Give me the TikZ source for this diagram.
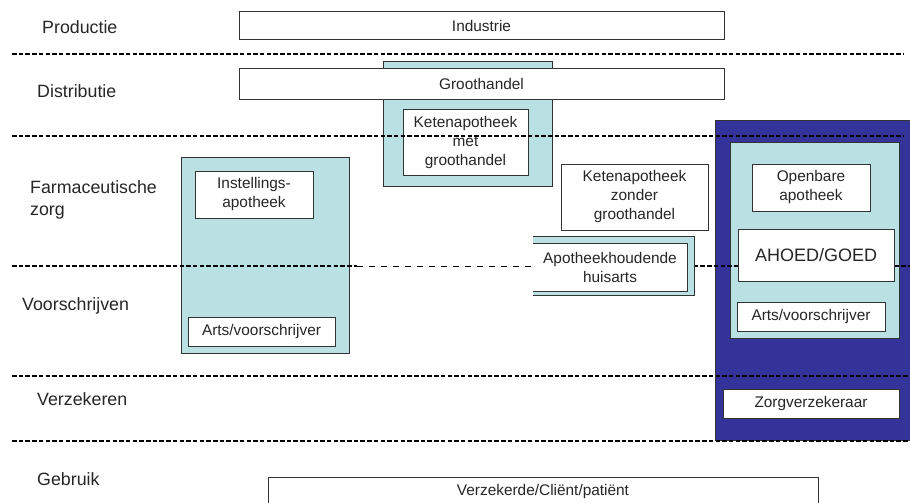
\documentclass[tikz,border=0pt]{standalone}
\usepackage{fontspec}
\setmainfont{Liberation Sans}
\definecolor{tealbg}{HTML}{B9E0E3}
\definecolor{navybg}{HTML}{333399}
\begin{document}
\begin{tikzpicture}[x=1pt,y=-1pt,
  lbl/.style={anchor=base west, font=\fontsize{17.8}{22}\selectfont, text=black!85, inner sep=0pt},
  wbox/.style={draw=black!80, fill=white, line width=1pt, inner sep=0pt, align=center, font=\fontsize{15.4}{19}\selectfont, text=black!85},
  tbox/.style={draw=black!80, fill=tealbg, line width=1pt, inner sep=0pt},
  bbox/.style={draw=black!80, fill=navybg, line width=1pt, inner sep=0pt},
  edge3/.style={draw=black!80, line width=1pt},
  dense/.style={dash pattern=on 4.5pt off 2.2pt, line width=1.1pt},
  loose/.style={dash pattern=on 6pt off 6pt, line width=1pt}]

\useasboundingbox (0,0) rectangle (910,503);
\clip (0,0) rectangle (910,503);
\fill[white] (0,0) rectangle (910,503);

% row labels
\node[lbl] (lprod) at (42,33.5) {Productie};
\node[lbl] (ldist) at (37,97) {Distributie};
\node[lbl, align=left] (lfarm) at (30,215) {Farmaceutische\\zorg};
\node[lbl] (lvoor) at (22,310) {Voorschrijven};
\node[lbl] (lverz) at (37,405) {Verzekeren};
\node[lbl] (lgebr) at (37,485) {Gebruik};

% distribution / production
\node[tbox, minimum width=169pt, minimum height=124pt] (ghbg) at (467.5,124) {};
\node[wbox, minimum width=485pt, minimum height=28pt] (industrie) at (481.5,26) {Industrie};
\node[wbox, minimum width=485pt, minimum height=30pt] (groothandel) at (481.5,84) {Groothandel};
\node[wbox, minimum width=125pt, minimum height=66pt] (ketenmet) at (465.5,142.5) {Ketenapotheek\\met\\groothandel};

% institutional pharmacy
\node[tbox, minimum width=168pt, minimum height=196pt] (instbg) at (265,255) {};
\node[wbox, minimum width=118pt, minimum height=47pt] (inst) at (254,194.5) {Instellings-\\apotheek};
\node[wbox, minimum width=147pt, minimum height=29pt] (artsL) at (261.5,331.5) {Arts/voorschrijver};

% right block
\node[bbox, minimum width=205pt, minimum height=320pt] (blue) at (817.5,280) {};
\node[tbox, minimum width=169pt, minimum height=196pt] (tealR) at (814.5,240) {};
\node[wbox, minimum width=118pt, minimum height=47pt] (openbare) at (811,187.5) {Openbare\\apotheek};
\node[wbox, minimum width=148pt, minimum height=29pt] (artsR) at (811,316.5) {Arts/voorschrijver};
\node[wbox, minimum width=176pt, minimum height=29pt] (zorg) at (811,403.5) {Zorgverzekeraar};

\node[wbox, minimum width=147pt, minimum height=66pt] (ketenzonder) at (634.5,197) {Ketenapotheek\\zonder\\groothandel};

% user
\node[wbox, minimum width=550pt, minimum height=30pt] (verz) at (543,492) {Verzekerde/Cli\"ent/pati\"ent};

% dashed separators
\coordinate (d1a) at (12,54);   \coordinate (d1b) at (904,54);
\coordinate (d2a) at (12,136);  \coordinate (d2b) at (904,136);
\coordinate (d3a) at (12,266);  \coordinate (d3b) at (357,266);
\coordinate (d3c) at (533,266); \coordinate (d3d) at (687,266);
\coordinate (d3e) at (910,266);
\coordinate (d4a) at (12,376);  \coordinate (d4b) at (910,376);
\coordinate (d5a) at (12,441);  \coordinate (d5b) at (910,441);
\draw[dense] (d1a) -- (d1b);
\draw[dense] (d2a) -- (d2b);
\draw[dense] (d3a) -- (d3b);
\draw[loose] (d3b) -- (d3c);
\draw[dense] (d3d) -- (d3e);
\draw[dense] (d4a) -- (d4b);
\draw[dense] (d5a) -- (d5b);

% dispensing GP (cut at left)
\node[fill=tealbg, inner sep=0pt, minimum width=161pt, minimum height=58pt] (apshadow) at (613.5,266) {};
\draw[edge3] (apshadow.north west) -- (apshadow.north east) -- (apshadow.south east) -- (apshadow.south west);
\node[fill=white, inner sep=0pt, minimum width=154pt, minimum height=47pt, align=center, font=\fontsize{15.4}{19}\selectfont, text=black!85] (apoth) at (610,267.5) {Apotheekhoudende\\huisarts};
\draw[edge3] (apoth.north west) -- (apoth.north east) -- (apoth.south east) -- (apoth.south west);

\node[wbox, minimum width=156pt, minimum height=52pt, font=\fontsize{18}{21}\selectfont] (ahoed) at (816,255) {AHOED/GOED};
\end{tikzpicture}
\end{document}
